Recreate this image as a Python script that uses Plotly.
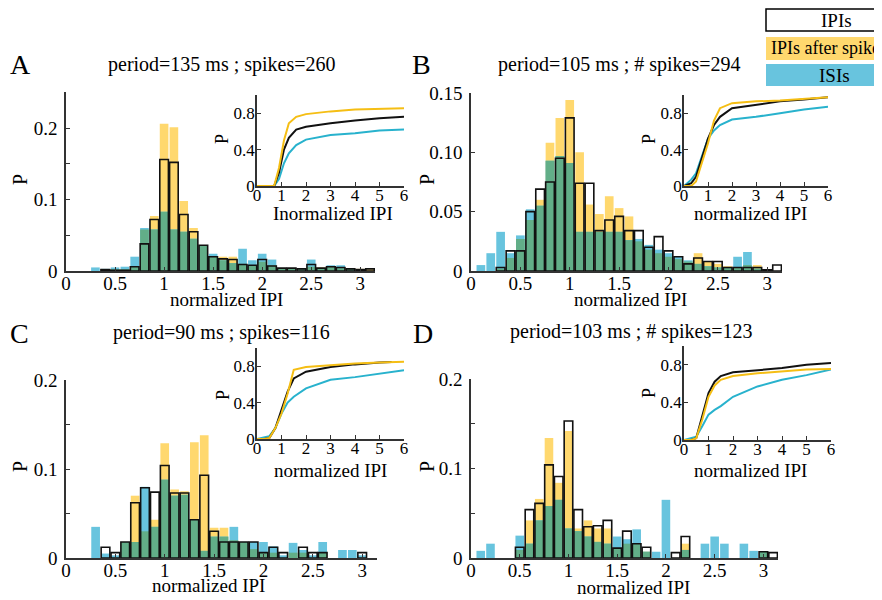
import plotly.graph_objects as go

W, H = 882, 600
OFF = 8  # page body margin offset of the figure in the browser

# ---------------- data ----------------
BINS = [0.1, 0.2, 0.3, 0.4, 0.5, 0.6, 0.7, 0.8, 0.9, 1.0,
        1.1, 1.2, 1.3, 1.4, 1.5, 1.6, 1.7, 1.8, 1.9, 2.0,
        2.1, 2.2, 2.3, 2.4, 2.5, 2.6, 2.7, 2.8, 2.9, 3.0, 3.1]

# Panel A
A_IPI = [0, 0, 0, 0.002, 0.001, 0.001, 0.006, 0.038, 0.072, 0.156,
         0.152, 0.079, 0.055, 0.036, 0.020, 0.017, 0.016, 0.009, 0.008, 0.016,
         0.007, 0.004, 0.004, 0.003, 0.009, 0.004, 0.006, 0.005, 0.003, 0.002, 0.003]
A_AFTER = [0, 0, 0, 0.001, 0.001, 0.001, 0.006, 0.058, 0.077, 0.206,
           0.201, 0.098, 0.060, 0.035, 0.021, 0.020, 0.020, 0.010, 0.008, 0.013,
           0.008, 0.004, 0.004, 0.004, 0.006, 0.005, 0.007, 0.004, 0.003, 0.003, 0.002]
A_ISI = [0, 0, 0.005, 0.003, 0.005, 0.006, 0.020, 0.060, 0.058, 0.083,
         0.058, 0.055, 0.045, 0.035, 0.024, 0.015, 0.011, 0.031, 0.015, 0.024,
         0.016, 0.004, 0.003, 0.004, 0.016, 0.004, 0.008, 0.008, 0.003, 0.001, 0]

# Panel B
B_IPI = [0, 0, 0.003, 0.017, 0.017, 0.050, 0.069, 0.075, 0.095, 0.129,
         0.074, 0.074, 0.034, 0.043, 0.046, 0.034, 0.034, 0.020, 0.029, 0.017,
         0.012, 0.006, 0.011, 0.008, 0.008, 0.003, 0.003, 0.003, 0.003, 0.001, 0.005]
B_AFTER = [0, 0, 0.002, 0.011, 0.027, 0.043, 0.060, 0.108, 0.129, 0.144,
           0.100, 0.056, 0.048, 0.063, 0.053, 0.046, 0.025, 0.018, 0.015, 0.012,
           0.010, 0.008, 0.015, 0.008, 0.006, 0.004, 0.003, 0.005, 0.005, 0, 0]
B_ISI = [0.005, 0.015, 0.033, 0.015, 0.030, 0.052, 0.055, 0.093, 0.097, 0.091,
         0.033, 0.033, 0.033, 0.033, 0.033, 0.026, 0.027, 0.022, 0.018, 0.015,
         0.012, 0.009, 0.006, 0.004, 0.003, 0.003, 0.012, 0.016, 0.002, 0, 0]

# Panel C
C_IPI = [0, 0, 0, 0.012, 0.006, 0.018, 0.062, 0.079, 0.074, 0.104,
         0.073, 0.073, 0.043, 0.093, 0.030, 0.018, 0.018, 0.018, 0.018, 0.006,
         0.012, 0.006, 0, 0.012, 0.006, 0.006, 0, 0, 0, 0.006, 0]
C_AFTER = [0, 0, 0, 0, 0, 0.018, 0.070, 0.030, 0.043, 0.129,
           0.077, 0.075, 0.130, 0.138, 0.034, 0.034, 0.020, 0.018, 0.010, 0.006,
           0.006, 0, 0.006, 0.006, 0, 0.006, 0, 0, 0, 0, 0]
C_ISI = [0, 0, 0.035, 0.005, 0.003, 0.018, 0.018, 0.080, 0.035, 0.088,
         0.070, 0.071, 0.043, 0.008, 0.024, 0.024, 0.035, 0.018, 0.018, 0.018,
         0.013, 0.003, 0.017, 0.009, 0.003, 0.018, 0, 0.009, 0.009, 0.003, 0]

# Panel D
D_IPI = [0, 0, 0, 0, 0.012, 0.054, 0.061, 0.104, 0.091, 0.153,
         0.054, 0.035, 0.036, 0.042, 0.011, 0.030, 0.016, 0.012, 0, 0,
         0.006, 0.024, 0, 0, 0, 0, 0, 0, 0, 0.007, 0.006]
D_AFTER = [0, 0, 0, 0, 0.009, 0.042, 0.066, 0.134, 0.084, 0.142,
           0.033, 0.042, 0.033, 0.033, 0.011, 0.016, 0.016, 0.007, 0, 0,
           0, 0.016, 0, 0, 0, 0, 0, 0, 0, 0.007, 0]
D_ISI = [0.008, 0.016, 0, 0, 0.025, 0.016, 0.042, 0.058, 0.065, 0.033,
         0.030, 0.024, 0.018, 0.016, 0.024, 0.021, 0.032, 0.007, 0.007, 0.065,
         0, 0.009, 0, 0.016, 0.024, 0.016, 0, 0.016, 0.008, 0.007, 0]

# Cumulative distributions (insets)
A_CDF_X = [0, 0.7, 0.9, 1.1, 1.3, 1.6, 2, 3, 4, 5, 6]
A_CDF_IPI = [0, 0, 0.15, 0.40, 0.53, 0.62, 0.65, 0.69, 0.72, 0.745, 0.76]
A_CDF_AFTER = [0, 0, 0.20, 0.50, 0.69, 0.76, 0.79, 0.82, 0.84, 0.85, 0.855]
A_CDF_ISI = [0, 0, 0.08, 0.25, 0.36, 0.45, 0.51, 0.56, 0.58, 0.61, 0.62]

B_CDF_X = [0, 0.3, 0.5, 0.75, 1, 1.25, 1.5, 2, 3, 4, 5, 6]
B_CDF_IPI = [0, 0.03, 0.10, 0.30, 0.52, 0.67, 0.76, 0.855, 0.89, 0.93, 0.95, 0.975]
B_CDF_AFTER = [0, 0, 0.05, 0.25, 0.47, 0.72, 0.855, 0.91, 0.93, 0.94, 0.96, 0.975]
B_CDF_ISI = [0, 0.07, 0.14, 0.33, 0.52, 0.61, 0.67, 0.73, 0.76, 0.80, 0.84, 0.87]

C_CDF_X = [0, 0.3, 0.5, 0.75, 1, 1.25, 1.5, 2, 3, 4, 5, 6]
C_CDF_X_IPI = [0, 0.3, 0.5, 0.75, 1, 1.25, 1.5, 2, 3, 4, 5, 5.5]
C_CDF_IPI = [0, 0, 0.01, 0.12, 0.32, 0.52, 0.665, 0.74, 0.79, 0.82, 0.84, 0.845]
C_CDF_AFTER = [0, 0, 0.01, 0.12, 0.28, 0.50, 0.76, 0.79, 0.81, 0.83, 0.84, 0.85]
C_CDF_ISI = [0, 0.02, 0.03, 0.12, 0.28, 0.40, 0.465, 0.556, 0.65, 0.68, 0.72, 0.756]

D_CDF_X = [0, 0.3, 0.5, 0.75, 1, 1.25, 1.5, 2, 3, 4, 5, 6]
D_CDF_IPI = [0, 0, 0.02, 0.25, 0.50, 0.62, 0.68, 0.72, 0.74, 0.765, 0.80, 0.82]
D_CDF_AFTER = [0, 0, 0.02, 0.22, 0.46, 0.58, 0.64, 0.68, 0.71, 0.73, 0.75, 0.755]
D_CDF_ISI = [0, 0.02, 0.035, 0.15, 0.27, 0.32, 0.36, 0.46, 0.57, 0.64, 0.69, 0.75]

TITLES = ["period=135 ms ; spikes=260", "period=105 ms ; # spikes=294",
          "period=90 ms ; spikes=116", "period=103 ms ; # spikes=123"]
LETTERS = ["A", "B", "C", "D"]
LEGEND = ["IPIs", "IPIs after spike", "ISIs"]
MAIN_XTICKS = [0, 0.5, 1, 1.5, 2, 2.5, 3]
MAIN_XTEXT = ["0", "0.5", "1", "1.5", "2", "2.5", "3"]
INSET_XTICKS = [0, 1, 2, 3, 4, 5, 6]
INSET_YTICKS = [0, 0.4, 0.8]
INSET_YTEXT = ["0", "0.4", "0.8"]

# ---------------- style ----------------
FONT = "Liberation Serif, Times New Roman, serif"
YELLOW = "rgb(255,216,110)"
CYAN = "rgb(104,196,222)"
GREEN = "rgb(98,174,136)"
YELLOW_LINE = "rgb(245,190,20)"
CYAN_LINE = "rgb(40,178,205)"
BLACK = "#111111"
AX = "#333333"
BW = 0.088


def px(x):
    return (x - OFF) / W


def py(y):
    return 1 - (y - OFF) / H


panels = [
    dict(ipi=A_IPI, after=A_AFTER, isi=A_ISI,
         cx=A_CDF_X, cxi=A_CDF_X, cipi=A_CDF_IPI, cafter=A_CDF_AFTER, cisi=A_CDF_ISI,
         dom_x=(66, 375), dom_y=(271, 92.3), yr=0.25,
         yt=[0, 0.05, 0.1, 0.15, 0.2, 0.25], ytext=["0", "", "0.1", "", "0.2", ""],
         in_x=(257, 404), in_y=(186, 95), inset_title="Inormalized IPI",
         title=(222, 65), letter=(20, 65), xlab=(226, 299), ylab=(20, 180),
         in_xlab=(333, 213), in_ylab=(222, 139)),
    dict(ipi=B_IPI, after=B_AFTER, isi=B_ISI,
         cx=B_CDF_X, cxi=B_CDF_X, cipi=B_CDF_IPI, cafter=B_CDF_AFTER, cisi=B_CDF_ISI,
         dom_x=(471, 782), dom_y=(271, 93), yr=0.15,
         yt=[0, 0.05, 0.1, 0.15], ytext=["0", "0.05", "0.10", "0.15"],
         in_x=(684, 828), in_y=(186, 95), inset_title="normalized IPI",
         title=(619, 65), letter=(421, 65), xlab=(630, 299), ylab=(427, 180),
         in_xlab=(750, 213), in_ylab=(649, 139)),
    dict(ipi=C_IPI, after=C_AFTER, isi=C_ISI,
         cx=C_CDF_X, cxi=C_CDF_X_IPI, cipi=C_CDF_IPI, cafter=C_CDF_AFTER, cisi=C_CDF_ISI,
         dom_x=(66, 377), dom_y=(558, 380), yr=0.2,
         yt=[0, 0.05, 0.1, 0.15, 0.2], ytext=["0", "", "0.1", "", "0.2"],
         in_x=(257, 404), in_y=(439, 348), inset_title="normalized IPI",
         title=(221, 332), letter=(19, 333), xlab=(208, 585), ylab=(20, 467),
         in_xlab=(330, 471), in_ylab=(223, 395)),
    dict(ipi=D_IPI, after=D_AFTER, isi=D_ISI,
         cx=D_CDF_X, cxi=D_CDF_X, cipi=D_CDF_IPI, cafter=D_CDF_AFTER, cisi=D_CDF_ISI,
         dom_x=(471, 778), dom_y=(558, 379), yr=0.2,
         yt=[0, 0.05, 0.1, 0.15, 0.2], ytext=["0", "", "0.1", "", "0.2"],
         in_x=(684, 831), in_y=(440, 346), inset_title="normalized IPI",
         title=(631, 331), letter=(423, 333), xlab=(633, 587), ylab=(427, 467),
         in_xlab=(750, 471), in_ylab=(649, 393)),
]

fig = go.Figure()
layout = dict(
    template="none",
    width=W, height=H, margin=dict(l=0, r=0, t=0, b=0, pad=0, autoexpand=False),
    paper_bgcolor="white", plot_bgcolor="rgba(0,0,0,0)",
    barmode="overlay", showlegend=False,
    font=dict(family=FONT, color="black"),
)
annotations = []
shapes = []


def ann(text, pos, size, xanchor="center", yanchor="middle", **kw):
    annotations.append(dict(text=text, x=px(pos[0]), y=py(pos[1]), xref="paper", yref="paper",
                            showarrow=False, font=dict(family=FONT, size=size, color="black"),
                            xanchor=xanchor, yanchor=yanchor, **kw))


for i, p in enumerate(panels):
    mx = 2 * i + 1
    ix = 2 * i + 2
    xa_m = "x" if mx == 1 else f"x{mx}"
    ya_m = "y" if mx == 1 else f"y{mx}"
    xa_i, ya_i = f"x{ix}", f"y{ix}"

    green = [min(a, b) for a, b in zip(p["after"], p["isi"])]
    outline = [v if v > 0 else None for v in p["ipi"]]

    for vals, col in ((p["after"], YELLOW), (p["isi"], CYAN), (green, GREEN)):
        fig.add_trace(go.Bar(x=BINS, y=vals, width=BW, marker=dict(color=col, line=dict(width=0)),
                             xaxis=xa_m, yaxis=ya_m, hoverinfo="skip"))
    fig.add_trace(go.Bar(x=BINS, y=outline, width=BW,
                         marker=dict(color="rgba(0,0,0,0)", line=dict(color=BLACK, width=1.6)),
                         xaxis=xa_m, yaxis=ya_m, hoverinfo="skip"))

    # inset CDFs
    fig.add_trace(go.Scatter(x=p["cx"], y=p["cisi"], mode="lines", line=dict(color=CYAN_LINE, width=2),
                             xaxis=xa_i, yaxis=ya_i, hoverinfo="skip"))
    fig.add_trace(go.Scatter(x=p["cxi"], y=p["cipi"], mode="lines", line=dict(color=BLACK, width=2),
                             xaxis=xa_i, yaxis=ya_i, hoverinfo="skip"))
    fig.add_trace(go.Scatter(x=p["cx"], y=p["cafter"], mode="lines", line=dict(color=YELLOW_LINE, width=2),
                             xaxis=xa_i, yaxis=ya_i, hoverinfo="skip"))

    common = dict(showline=True, linecolor=AX, linewidth=1.5, ticks="inside", ticklen=4,
                  tickcolor=AX, showgrid=False, zeroline=False, mirror=False, fixedrange=True,
                  automargin=False)
    xk = "xaxis" if mx == 1 else f"xaxis{mx}"
    yk = "yaxis" if mx == 1 else f"yaxis{mx}"
    layout[xk] = dict(domain=[px(p["dom_x"][0]), px(p["dom_x"][1])], range=[0, 3.15],
                      anchor=ya_m, tickvals=MAIN_XTICKS, ticktext=MAIN_XTEXT, ticklabelstandoff=-6,
                      tickfont=dict(size=19, family=FONT, color="black"), **common)
    layout[yk] = dict(domain=[py(p["dom_y"][0]), py(p["dom_y"][1])], range=[0, p["yr"]],
                      anchor=xa_m, tickvals=p["yt"], ticktext=p["ytext"], ticklabelstandoff=3,
                      tickfont=dict(size=19, family=FONT, color="black"), **common)
    layout[f"xaxis{ix}"] = dict(domain=[px(p["in_x"][0]), px(p["in_x"][1])], range=[0, 6],
                                anchor=ya_i, tickvals=INSET_XTICKS, ticklabelstandoff=-7,
                                tickfont=dict(size=17, family=FONT, color="black"), **common)
    layout[f"yaxis{ix}"] = dict(domain=[py(p["in_y"][0]), py(p["in_y"][1])], range=[0, 1],
                                anchor=xa_i, tickvals=INSET_YTICKS, ticktext=INSET_YTEXT,
                                ticklabelstandoff=-3,
                                tickfont=dict(size=17, family=FONT, color="black"), **common)

    ann(TITLES[i], p["title"], 20)
    ann(LETTERS[i], p["letter"], 28)
    ann("normalized IPI", p["xlab"], 19)
    ann("P", p["ylab"], 20, textangle=-90)
    ann(p["inset_title"], p["in_xlab"], 19)
    ann("P", p["in_ylab"], 18, textangle=-90)

# legend boxes (top right)
box_fills = ["white", YELLOW, CYAN]
box_y = [(9, 31), (37, 60), (64, 86)]
for k in range(3):
    shapes.append(dict(type="rect", xref="paper", yref="paper",
                       x0=px(766), x1=px(884), y0=py(box_y[k][1]), y1=py(box_y[k][0]),
                       fillcolor=box_fills[k],
                       line=dict(color="black" if k == 0 else box_fills[k], width=1.5 if k == 0 else 0)))
ann(LEGEND[0], (836, 20), 19)
ann(LEGEND[1], (769, 48), 18, xanchor="left")
ann(LEGEND[2], (834, 75), 19)

layout["annotations"] = annotations
layout["shapes"] = shapes
fig.update_layout(**layout)
fig.write_html("out.html")
